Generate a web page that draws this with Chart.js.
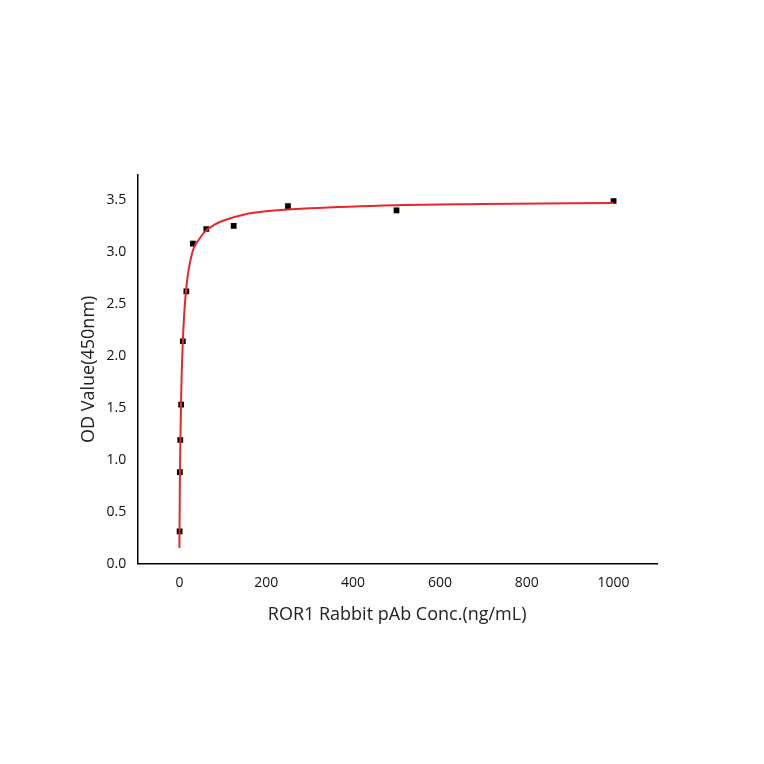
<!DOCTYPE html>
<html><head>
<script src="https://cdn.jsdelivr.net/npm/chart.js@4"></script>
<style>body{margin:0;background:#fff}#wrap{width:764px;height:764px}</style>
</head><body><div id="wrap"><canvas id="c"></canvas></div>
<script>
const odY = [0.31, 0.88, 1.19, 1.53, 2.14, 2.62, 3.08, 3.22, 3.25, 3.44, 3.40, 3.49];
const pointX = [0.5, 1, 2, 4, 8, 16, 31, 62, 125, 250, 500, 1000];
const fitX = [0, 1, 2, 4, 8, 15, 30, 45, 60, 80, 100, 150, 200, 300, 500, 700, 1000];
const fitY = [0.15, 0.75, 1.1, 1.6, 2.15, 2.62, 3.0, 3.12, 3.2, 3.26, 3.3, 3.36, 3.39, 3.42, 3.45, 3.46, 3.47];
const xTicks = [0, 200, 400, 600, 800, 1000];
const yTicks = [0, 0.5, 1, 1.5, 2, 2.5, 3, 3.5];

new Chart(document.getElementById('c'), {
  type: 'scatter',
  data: {
    datasets: [{
      type: 'line',
      data: fitX.map((x, i) => ({x: x, y: fitY[i]})),
      borderColor: '#e8262a',
      borderWidth: 2,
      pointRadius: 0,
      cubicInterpolationMode: 'monotone'
    }, {
      data: pointX.map((x, i) => ({x: x, y: odY[i]})),
      backgroundColor: '#000',
      pointStyle: 'rect',
      pointRadius: 4
    }]
  },
  options: {
    responsive: true,
    maintainAspectRatio: false,
    animation: false,
    layout: {padding: {left: 74, right: 107, top: 175, bottom: 134}},
    plugins: {legend: {display: false}, tooltip: {enabled: false}},
    scales: {
      x: {
        type: 'linear', min: -97, max: 1100,
        afterBuildTicks: ax => { ax.ticks = xTicks.map(v => ({value: v})); },
        grid: {display: false},
        border: {color: '#000', width: 1.5},
        ticks: {color: '#111', font: {family: 'Open Sans', size: 14}, callback: v => String(v)},
        title: {display: true, text: 'ROR1 Rabbit pAb Conc.(ng/mL)', color: '#222', font: {family: 'Open Sans', size: 18}, padding: {top: 10}}
      },
      y: {
        min: 0, max: 3.74,
        afterBuildTicks: ax => { ax.ticks = yTicks.map(v => ({value: v})); },
        grid: {display: false},
        border: {color: '#000', width: 1.5},
        ticks: {color: '#111', font: {family: 'Open Sans', size: 14}, callback: v => v.toFixed(1)},
        title: {display: true, text: 'OD Value(450nm)', color: '#222', font: {family: 'Open Sans', size: 18}}
      }
    }
  }
});
</script></body></html>
